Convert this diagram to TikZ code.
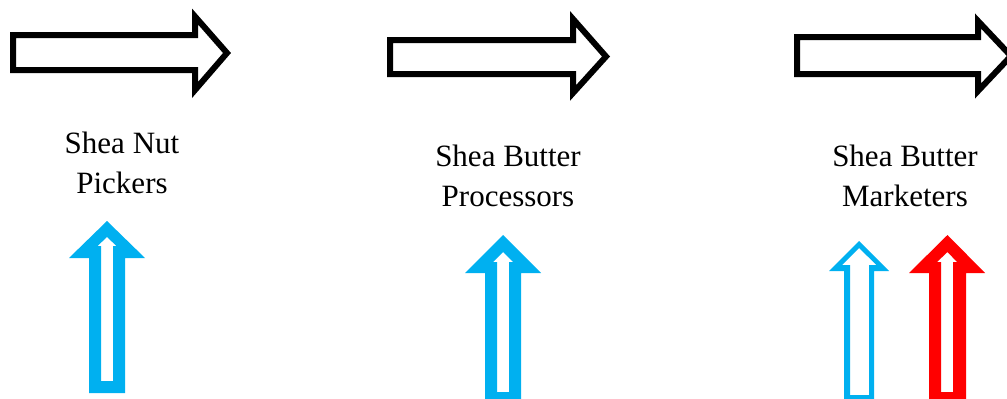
\documentclass[tikz,border=0pt]{standalone}
\usepackage{fontspec}
\setmainfont{Liberation Serif}
\definecolor{skyblue}{RGB}{0,176,240}
\definecolor{brightred}{RGB}{255,0,0}
\begin{document}
\begin{tikzpicture}[x=1pt,y=-1pt,
  flowarrow/.style={draw=black,line width=6pt,miter limit=10,line join=miter,fill=white},
  hollowup/.style={fill=#1,even odd rule},
  label/.style={font=\fontsize{31}{40}\selectfont,align=center,anchor=base,inner sep=0pt}]
\useasboundingbox (0,0) rectangle (1007,399);
\clip (0,0) rectangle (1007,399);
\fill[white] (0,0) rectangle (1007,399);

% block arrows along the chain
\draw[flowarrow] (13,35) -- (195,35) -- (195,16.5) -- (227,53) -- (195,90) -- (195,70) -- (13,70) -- cycle;
\draw[flowarrow] (390,40) -- (573,40) -- (573,19) -- (606,56.5) -- (573,93) -- (573,74) -- (390,74) -- cycle;
\draw[flowarrow] (797,37) -- (978,37) -- (978,21) -- (1011,56) -- (978,91) -- (978,74) -- (797,74) -- cycle;

% actor labels (base anchor sits on the last line)
\node[label] (pickers) at (122,193) {Shea Nut\\Pickers};
\node[label] (processors) at (508,206) {Shea Butter\\Processors};
\node[label] (marketers) at (905,206) {Shea Butter\\Marketers};

% hollow upward arrows
\fill[hollowup=skyblue]
  (89,393) -- (125,393) -- (125,258) -- (145,258) -- (107,221) -- (69,258) -- (89,258) -- cycle
  (101,381) -- (113,381) -- (113,246) -- (116.5,246) -- (107,237) -- (97.5,246) -- (101,246) -- cycle;
\fill[hollowup=skyblue]
  (485,404) -- (521,404) -- (521,273) -- (541,273) -- (503,235) -- (465,273) -- (485,273) -- cycle
  (497,392) -- (509,392) -- (509,262) -- (513,262) -- (503,252) -- (493,262) -- (497,262) -- cycle;
\fill[hollowup=skyblue]
  (844,399) -- (874,399) -- (874,271) -- (889,271) -- (859,241) -- (829,271) -- (844,271) -- cycle
  (850,395) -- (869,395) -- (869,265) -- (876.5,265) -- (859,248) -- (842,265) -- (850,265) -- cycle;
\fill[hollowup=brightred]
  (929,404) -- (966,404) -- (966,273) -- (985,273) -- (947.5,235) -- (909,273) -- (929,273) -- cycle
  (941,392) -- (953,392) -- (953,262) -- (957,262) -- (947.5,252) -- (937,262) -- (941,262) -- cycle;
\end{tikzpicture}
\end{document}
